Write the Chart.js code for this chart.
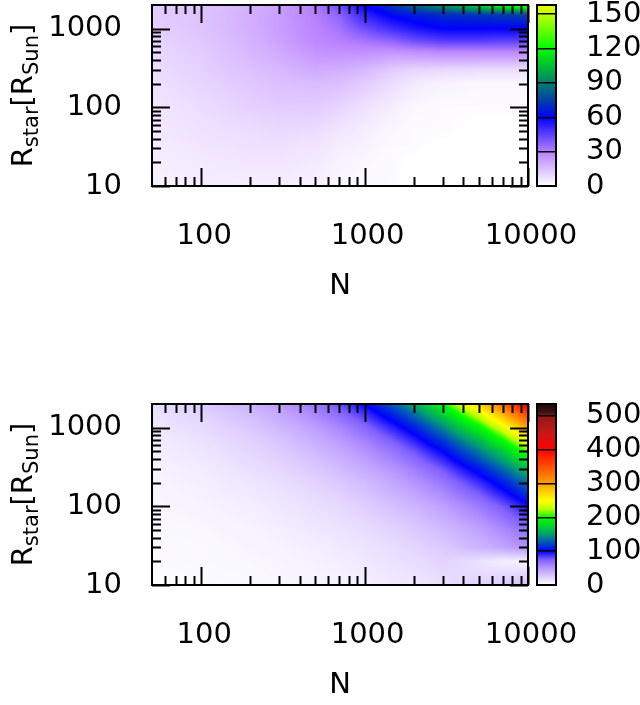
<!DOCTYPE html>
<html>
<head>
<meta charset="utf-8">
<script src="https://cdn.jsdelivr.net/npm/chart.js@4.4.1/dist/chart.umd.min.js"></script>
<style>
html, body { margin: 0; padding: 0; background: #fff; overflow: hidden; }
#wrap { position: relative; width: 640px; height: 705px; }
canvas { position: absolute; }
</style>
</head>
<body>
<div id="wrap">
  <canvas id="main1" width="640" height="306" style="left:0px;top:0px;width:640px;height:306px"></canvas>
  <canvas id="cb1" width="110" height="306" style="left:530px;top:0px;width:110px;height:306px"></canvas>
  <canvas id="main2" width="640" height="306" style="left:0px;top:399px;width:640px;height:306px"></canvas>
  <canvas id="cb2" width="110" height="306" style="left:530px;top:399px;width:110px;height:306px"></canvas>
</div>
<script>
// grid of the maps: N along x, R_star along y
const nValues = [50, 100, 200, 300, 500, 700, 1000, 1500, 2000, 3000, 5000, 7000, 10000];
const rValues = [10, 20, 30, 50, 100, 200, 300, 500, 700, 1000, 1500, 2000];

// upper map, one row per R (from R=10 up to R=2000)
const topValues = [
  [3, 4, 4, 4, 3, 2, 1, 1, 0, 0, 0, 0, 0],
  [4, 5, 6, 6, 5, 3, 2, 1, 0, 0, 0, 0, 0],
  [4, 6, 7, 7, 6, 4, 3, 1, 1, 0, 0, 0, 0],
  [5, 7, 8, 9, 8, 6, 4, 2, 1, 1, 0, 0, 0],
  [6, 8, 11, 12, 12, 10, 7, 4, 2, 1, 1, 1, 1],
  [7, 10, 13, 15, 16, 15, 12, 8, 5, 3, 2, 2, 2],
  [8, 11, 15, 17, 20, 19, 17, 12, 10, 9, 8, 8, 8],
  [9, 12, 17, 20, 25, 26, 26, 25, 26, 28, 28, 28, 28],
  [10, 13, 18, 22, 28, 30, 33, 37, 42, 46, 46, 45, 45],
  [11, 14, 19, 23, 29, 33, 42, 50, 55, 60, 60, 60, 60],
  [12, 14, 19, 23, 30, 37, 52, 62, 66, 70, 72, 74, 75],
  [12, 14, 18, 22, 31, 42, 60, 74, 84, 95, 112, 122, 132]
];

// lower map, same layout
const bottomValues = [
  [1, 2, 3, 4, 5, 6, 7, 10, 11, 15, 20, 25, 31],
  [2, 3, 4, 5, 7, 8, 11, 14, 16, 21, 14, 8, 6],
  [2, 3, 5, 6, 8, 10, 13, 16, 20, 25, 35, 43, 53],
  [3, 4, 6, 8, 11, 13, 16, 21, 25, 32, 44, 55, 68],
  [4, 6, 8, 11, 15, 18, 23, 30, 35, 45, 62, 77, 96],
  [5, 8, 12, 15, 21, 26, 32, 42, 50, 64, 88, 108, 135],
  [6, 9, 15, 19, 26, 32, 40, 51, 61, 78, 107, 132, 165],
  [8, 12, 19, 24, 33, 41, 51, 65, 78, 100, 138, 169, 211],
  [9, 14, 22, 28, 39, 48, 60, 77, 92, 118, 162, 200, 249],
  [11, 17, 26, 34, 46, 57, 71, 92, 109, 141, 193, 238, 297],
  [14, 21, 32, 41, 57, 70, 87, 112, 134, 172, 236, 290, 362],
  [16, 24, 37, 47, 65, 80, 100, 129, 154, 198, 271, 334, 417]
];

// axis ticks
const xTickLabels = [100, 1000, 10000];
const yTickLabels = [10, 100, 1000];
const cbTicksTop = [0, 30, 60, 90, 120, 150];
const cbTicksBottom = [0, 100, 200, 300, 400, 500];
const cbMaxTop = 158;
const cbMaxBottom = 535;

// colour palettes
const topStops = [0, 30, 60, 75, 90, 105, 120, 150, 158];
const topColors = ['#ffffff', '#b880ff', '#0000ff', '#0040a8', '#008070', '#00c030', '#00ff00', '#c0ff00', '#e8ff00'];
const bottomStops = [0, 50, 75, 100, 125, 150, 180, 200, 225, 250, 300, 350, 400, 450, 500, 510, 535];
const bottomColors = ['#ffffff', '#b896ff', '#8060ff', '#0000ff', '#0050c0', '#00a070', '#00e020', '#00ff00', '#c0ff00',
  '#ffff00', '#ffa000', '#ff5000', '#ff0000', '#c81818', '#901818', '#401010', '#200808'];

Chart.defaults.font.family = "'DejaVu Sans', sans-serif";
Chart.defaults.color = '#000';

function minorTicks(from, to) {
  const out = [];
  for (let d = from; d < to; d *= 10) {
    for (let k = 1; k <= 9; k++) out.push(k * d);
  }
  out.push(to);
  return out;
}
const xTicks = minorTicks(10, 10000).filter(v => v > 50);
const yTicks = minorTicks(10, 1000);

function hexToRgb(h) {
  const n = parseInt(h.slice(1), 16);
  return [(n >> 16) & 255, (n >> 8) & 255, n & 255];
}

function paletteColor(stops, colors, v) {
  if (v <= stops[0]) return hexToRgb(colors[0]);
  for (let i = 1; i < stops.length; i++) {
    if (v <= stops[i]) {
      const t = (v - stops[i - 1]) / (stops[i] - stops[i - 1]);
      const a = hexToRgb(colors[i - 1]), b = hexToRgb(colors[i]);
      return a.map((c, k) => Math.round(c + (b[k] - c) * t));
    }
  }
  return hexToRgb(colors[colors.length - 1]);
}

// where a value sits between two grid nodes (log spacing)
function gridPos(arr, v) {
  const lv = Math.log10(v);
  for (let k = 0; k < arr.length - 1; k++) {
    const a = Math.log10(arr[k]), b = Math.log10(arr[k + 1]);
    if (lv <= b || k === arr.length - 2) {
      const t = Math.max(0, Math.min(1, (lv - a) / (b - a)));
      return [k, t];
    }
  }
}

// chart.js adds label room above/below the axes, we place everything ourselves
function noPad(s) {
  s.paddingTop = 0; s.paddingBottom = 0; s.paddingLeft = 0; s.paddingRight = 0;
}

const frameTicks = {
  id: 'frameTicks',
  afterDraw(chart) {
    const {ctx, chartArea: a, scales: {x, y}} = chart;
    ctx.save();
    ctx.strokeStyle = '#000';
    ctx.lineWidth = 2;
    ctx.beginPath();
    x.ticks.forEach(t => {
      const p = Math.round(x.getPixelForValue(t.value)) + 0.5;
      const len = xTickLabels.includes(t.value) ? 18 : 9;
      ctx.moveTo(p, a.bottom); ctx.lineTo(p, a.bottom - len);
      ctx.moveTo(p, a.top); ctx.lineTo(p, a.top + len);
    });
    y.ticks.forEach(t => {
      const p = Math.round(y.getPixelForValue(t.value)) + 0.5;
      const len = yTickLabels.includes(t.value) ? 18 : 9;
      ctx.moveTo(a.left, p); ctx.lineTo(a.left + len, p);
      ctx.moveTo(a.right, p); ctx.lineTo(a.right - len, p);
    });
    ctx.stroke();
    ctx.strokeRect(a.left, a.top, a.right - a.left, a.bottom - a.top);
    ctx.restore();
  }
};

const yTitle = {
  id: 'yTitle',
  afterDraw(chart) {
    const {ctx, chartArea: a} = chart;
    const parts = [['R', 29, 0], ['star', 21, 6], ['[R', 29, 0], ['Sun', 21, 6], [']', 29, 0]];
    ctx.save();
    let total = 0;
    parts.forEach(p => { ctx.font = p[1] + "px 'DejaVu Sans'"; total += ctx.measureText(p[0]).width; });
    ctx.translate(32, (a.top + a.bottom) / 2);
    ctx.rotate(-Math.PI / 2);
    ctx.fillStyle = '#000';
    ctx.textBaseline = 'alphabetic';
    let pos = -total / 2;
    parts.forEach(p => {
      ctx.font = p[1] + "px 'DejaVu Sans'";
      ctx.fillText(p[0], pos, p[2]);
      pos += ctx.measureText(p[0]).width;
    });
    ctx.restore();
  }
};

function makePanel(id, values, stops, colors) {
  const heatmap = {
    id: 'heatmap',
    beforeDraw(chart) {
      const {ctx, chartArea: a, scales: {x, y}} = chart;
      const w = Math.round(a.right - a.left), h = Math.round(a.bottom - a.top);
      const img = ctx.createImageData(w, h);
      const cols = [], rows = [];
      for (let i = 0; i < w; i++) cols.push(gridPos(nValues, x.getValueForPixel(a.left + i + 0.5)));
      for (let j = 0; j < h; j++) rows.push(gridPos(rValues, y.getValueForPixel(a.top + j + 0.5)));
      for (let j = 0; j < h; j++) {
        const [rk, rt] = rows[j];
        for (let i = 0; i < w; i++) {
          const [nk, nt] = cols[i];
          const v00 = values[rk][nk], v01 = values[rk][nk + 1];
          const v10 = values[rk + 1][nk], v11 = values[rk + 1][nk + 1];
          const v = (v00 * (1 - nt) + v01 * nt) * (1 - rt) + (v10 * (1 - nt) + v11 * nt) * rt;
          const c = paletteColor(stops, colors, v);
          const o = (j * w + i) * 4;
          img.data[o] = c[0]; img.data[o + 1] = c[1]; img.data[o + 2] = c[2]; img.data[o + 3] = 255;
        }
      }
      ctx.putImageData(img, Math.round(a.left), Math.round(a.top));
    }
  };

  new Chart(document.getElementById(id), {
    type: 'scatter',
    data: {datasets: []},
    options: {
      responsive: false,
      maintainAspectRatio: false,
      animation: false,
      events: [],
      layout: {padding: {left: 0, top: 5, right: 112, bottom: 0}},
      plugins: {legend: {display: false}, tooltip: {enabled: false}},
      scales: {
        x: {
          type: 'logarithmic', min: 50, max: 10000,
          afterBuildTicks: s => { s.ticks = xTicks.map(v => ({value: v})); },
          afterFit: s => { s.height = 120; noPad(s); },
          grid: {display: false, drawTicks: false},
          border: {display: false},
          ticks: {
            autoSkip: false, maxRotation: 0, minRotation: 0, padding: 33, labelOffset: 3,
            font: {size: 29}, color: '#000',
            callback: v => xTickLabels.includes(v) ? String(v) : ''
          },
          title: {display: true, text: 'N', font: {size: 29}, color: '#000', padding: {top: 0, bottom: 2}}
        },
        y: {
          type: 'logarithmic', min: 10, max: 2000,
          afterBuildTicks: s => { s.ticks = yTicks.map(v => ({value: v})); },
          afterFit: s => { s.width = 152; noPad(s); },
          grid: {display: false, drawTicks: false},
          border: {display: false},
          ticks: {
            autoSkip: false, padding: 30, font: {size: 29}, color: '#000',
            callback: v => yTickLabels.includes(v) ? String(v) : ''
          }
        }
      }
    },
    plugins: [heatmap, frameTicks, yTitle]
  });
}

function makeColorbar(id, max, ticks, stops, colors) {
  const fill = {
    id: 'cbFill',
    beforeDraw(chart) {
      const {ctx, chartArea: a, scales: {y}} = chart;
      for (let p = Math.floor(a.top); p < a.bottom; p++) {
        const c = paletteColor(stops, colors, y.getValueForPixel(p + 0.5));
        ctx.fillStyle = 'rgb(' + c.join(',') + ')';
        ctx.fillRect(a.left, p, a.right - a.left, 1);
      }
    },
    afterDraw(chart) {
      const {ctx, chartArea: a} = chart;
      ctx.save();
      ctx.strokeStyle = '#000';
      ctx.lineWidth = 2;
      ctx.strokeRect(a.left, a.top, a.right - a.left, a.bottom - a.top);
      ctx.restore();
    }
  };

  new Chart(document.getElementById(id), {
    type: 'scatter',
    data: {datasets: []},
    options: {
      responsive: false,
      maintainAspectRatio: false,
      animation: false,
      events: [],
      layout: {padding: {left: 7, top: 5, right: 0, bottom: 120}},
      plugins: {legend: {display: false}, tooltip: {enabled: false}},
      scales: {
        x: {display: false},
        y: {
          position: 'right', min: 0, max: max,
          afterBuildTicks: s => { s.ticks = ticks.map(v => ({value: v})); },
          afterFit: s => { s.width = 84; noPad(s); },
          grid: {color: '#000', lineWidth: 1.5, drawTicks: false},
          border: {display: false},
          ticks: {autoSkip: false, padding: 30, font: {size: 29}, color: '#000'}
        }
      }
    },
    plugins: [fill]
  });
}

makePanel('main1', topValues, topStops, topColors);
makeColorbar('cb1', cbMaxTop, cbTicksTop, topStops, topColors);
makePanel('main2', bottomValues, bottomStops, bottomColors);
makeColorbar('cb2', cbMaxBottom, cbTicksBottom, bottomStops, bottomColors);
</script>
</body>
</html>
